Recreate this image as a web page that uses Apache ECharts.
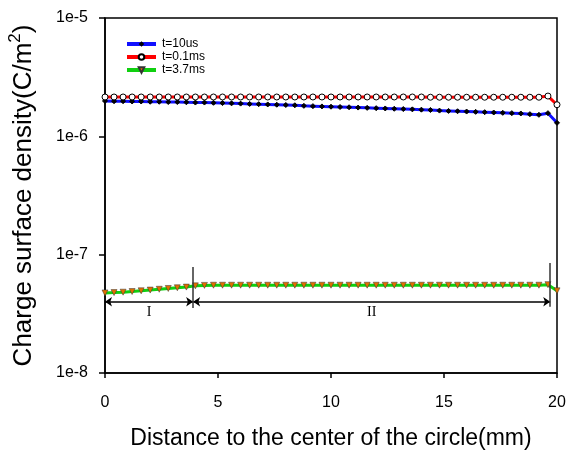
<!DOCTYPE html>
<html lang="en">
<head>
    <meta charset="UTF-8">
    <script src="https://cdn.jsdelivr.net/npm/echarts@6/dist/echarts.min.js"></script>
    <title>Charge surface density</title>
</head>
<body style="margin:0;background:#fff;">
<div id="main" style="width: 568px;height:450px;"></div>
<script type="text/javascript">
    // distance from centre (mm)
    var distance = [0, 0.4, 0.8, 1.2, 1.6, 2.0, 2.4, 2.8, 3.2, 3.6, 4.0, 4.4, 4.8, 5.2, 5.6, 6.0, 6.4, 6.8,
        7.2, 7.6, 8.0, 8.4, 8.8, 9.2, 9.6, 10.0, 10.4, 10.8, 11.2, 11.6, 12.0, 12.4, 12.8, 13.2, 13.6,
        14.0, 14.4, 14.8, 15.2, 15.6, 16.0, 16.4, 16.8, 17.2, 17.6, 18.0, 18.4, 18.8, 19.2, 19.6, 20];

    // t=10us
    var sigma10us = [1.99e-6, 1.98e-6, 1.98e-6, 1.97e-6, 1.97e-6, 1.96e-6, 1.96e-6, 1.95e-6, 1.95e-6, 1.94e-6,
        1.93e-6, 1.93e-6, 1.92e-6, 1.91e-6, 1.90e-6, 1.89e-6, 1.88e-6, 1.87e-6, 1.86e-6, 1.85e-6,
        1.84e-6, 1.83e-6, 1.81e-6, 1.80e-6, 1.79e-6, 1.78e-6, 1.77e-6, 1.76e-6, 1.75e-6, 1.74e-6,
        1.73e-6, 1.72e-6, 1.71e-6, 1.70e-6, 1.69e-6, 1.68e-6, 1.67e-6, 1.65e-6, 1.64e-6, 1.63e-6,
        1.62e-6, 1.61e-6, 1.60e-6, 1.59e-6, 1.58e-6, 1.57e-6, 1.56e-6, 1.54e-6, 1.52e-6, 1.57e-6, 1.30e-6];

    // t=0.1ms
    var sigma01ms = [2.15e-6, 2.15e-6, 2.15e-6, 2.15e-6, 2.15e-6, 2.15e-6, 2.15e-6, 2.15e-6, 2.15e-6, 2.15e-6,
        2.15e-6, 2.15e-6, 2.15e-6, 2.15e-6, 2.15e-6, 2.15e-6, 2.15e-6, 2.15e-6, 2.15e-6, 2.15e-6,
        2.15e-6, 2.15e-6, 2.15e-6, 2.15e-6, 2.15e-6, 2.15e-6, 2.15e-6, 2.15e-6, 2.15e-6, 2.15e-6,
        2.15e-6, 2.15e-6, 2.15e-6, 2.15e-6, 2.15e-6, 2.15e-6, 2.14e-6, 2.14e-6, 2.14e-6, 2.14e-6,
        2.14e-6, 2.14e-6, 2.14e-6, 2.14e-6, 2.14e-6, 2.14e-6, 2.14e-6, 2.14e-6, 2.14e-6, 2.19e-6, 1.85e-6];

    // t=3.7ms
    var sigma37ms = [4.75e-8, 4.78e-8, 4.82e-8, 4.88e-8, 4.95e-8, 5.02e-8, 5.10e-8, 5.18e-8, 5.25e-8, 5.32e-8,
        5.45e-8, 5.50e-8, 5.52e-8, 5.52e-8, 5.52e-8, 5.52e-8, 5.52e-8, 5.52e-8, 5.52e-8, 5.52e-8,
        5.52e-8, 5.52e-8, 5.52e-8, 5.52e-8, 5.52e-8, 5.52e-8, 5.52e-8, 5.52e-8, 5.52e-8, 5.52e-8,
        5.52e-8, 5.52e-8, 5.52e-8, 5.52e-8, 5.52e-8, 5.52e-8, 5.52e-8, 5.52e-8, 5.52e-8, 5.52e-8,
        5.52e-8, 5.52e-8, 5.52e-8, 5.52e-8, 5.52e-8, 5.52e-8, 5.52e-8, 5.52e-8, 5.52e-8, 5.58e-8, 4.95e-8];

    var seriesNames = ['t=10us', 't=0.1ms', 't=3.7ms'];

    // region annotations (mm, C/m2)
    var regionBounds = [0, 3.9, 19.7];
    var regionLabels = ['I', 'II'];
    var arrowLevel = 4.0e-8;
    var dividerSpan = [[7.85e-8, 3.54e-8], [8.5e-8, 3.63e-8]];

    function pairs(ys) {
        return distance.map(function (x, i) { return [x, ys[i]]; });
    }

    var myChart = echarts.init(document.getElementById('main'));

    var arrowData = [];
    for (var i = 0; i < regionLabels.length; i++) {
        arrowData.push([
            {coord: [regionBounds[i], arrowLevel], label: {formatter: regionLabels[i]}},
            {coord: [regionBounds[i + 1], arrowLevel]}
        ]);
    }
    var dividerData = [];
    for (var j = 0; j < dividerSpan.length; j++) {
        dividerData.push([
            {coord: [regionBounds[j + 1], dividerSpan[j][0]], symbol: 'none',
                label: {show: false}, lineStyle: {color: '#333', width: 1.5}},
            {coord: [regionBounds[j + 1], dividerSpan[j][1]], symbol: 'none'}
        ]);
    }

    var font = 'Arial, "Liberation Sans", sans-serif';

    option = {
        backgroundColor: '#fff',
        animation: false,
        textStyle: {fontFamily: font},
        grid: {
            left: 105, right: 11, top: 18, bottom: 77,
            outerBoundsMode: 'none',
            show: true, borderColor: '#000', borderWidth: 1.5, backgroundColor: 'transparent'
        },
        legend: {
            left: 120, top: 33,
            orient: 'vertical',
            itemWidth: 29, itemHeight: 7, itemGap: 1,
            lineStyle: {width: 4},
            textStyle: {fontSize: 12, color: '#000', fontFamily: font, padding: [0, 0, 0, 1]},
            data: seriesNames
        },
        xAxis: {
            type: 'value',
            min: 0, max: 20, interval: 5,
            name: 'Distance to the center of the circle(mm)',
            nameLocation: 'middle', nameGap: 54,
            nameTextStyle: {fontSize: 23, color: '#000', fontFamily: font},
            axisLine: {lineStyle: {color: '#000', width: 1.5}},
            axisTick: {inside: false, length: 5, lineStyle: {color: '#000', width: 1.5}},
            axisLabel: {fontSize: 16, color: '#000', margin: 22, fontFamily: font},
            splitLine: {show: false}
        },
        yAxis: {
            type: 'log', logBase: 10,
            min: 1e-8, max: 1e-5,
            name: 'Charge surface density(C/m{sup|2})',
            nameLocation: 'middle', nameGap: 64, nameRotate: 90,
            nameTextStyle: {
                fontSize: 26, color: '#000', fontFamily: font,
                rich: {sup: {fontSize: 17, color: '#000', fontFamily: font, verticalAlign: 'top', lineHeight: 34}}
            },
            axisLine: {show: true, lineStyle: {color: '#000', width: 1.5}},
            axisTick: {show: true, inside: false, length: 6, lineStyle: {color: '#000', width: 1.5}},
            axisLabel: {
                fontSize: 16, color: '#000', margin: 17, fontFamily: font,
                formatter: function (v) { return '1e' + Math.round(Math.log10(v)); }
            },
            splitLine: {show: false}
        },
        series: [{
            name: seriesNames[0],
            type: 'line',
            data: pairs(sigma10us),
            symbol: 'diamond', symbolSize: 5,
            itemStyle: {color: '#000', borderColor: '#000'},
            lineStyle: {color: '#1010ff', width: 3}
        }, {
            name: seriesNames[1],
            type: 'line',
            data: pairs(sigma01ms),
            symbol: 'circle', symbolSize: 6,
            itemStyle: {color: '#fff', borderColor: '#000', borderWidth: 1},
            lineStyle: {color: '#ff0000', width: 3}
        }, {
            name: seriesNames[2],
            type: 'line',
            data: pairs(sigma37ms),
            symbol: 'triangle', symbolRotate: 180, symbolSize: 6,
            itemStyle: {color: '#e07000', borderColor: '#333', borderWidth: 0.5},
            lineStyle: {color: '#10d010', width: 3},
            markLine: {
                silent: true,
                symbol: ['arrow', 'arrow'],
                symbolSize: 7,
                lineStyle: {color: '#000', width: 1.5, type: 'solid'},
                label: {
                    show: true, position: 'insideMiddleBottom', distance: 4,
                    fontFamily: '"Liberation Serif", "DejaVu Serif", serif',
                    fontSize: 14, color: '#000'
                },
                data: arrowData.concat(dividerData)
            }
        }]
    };

    myChart.setOption(option);
</script>
</body>
</html>
